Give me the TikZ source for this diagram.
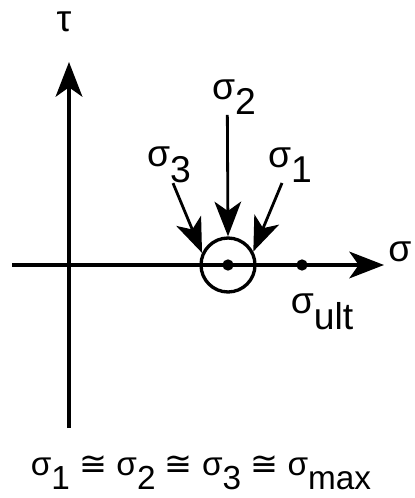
\documentclass[tikz,border=0pt]{standalone}
\usepackage{fontspec}
\setmainfont{Liberation Sans}
\newfontfamily\symfont{DejaVu Sans}
\usetikzlibrary{arrows.meta}
\newcommand{\lo}[1]{\raisebox{-0.42em}{#1}}
\newcommand{\appr}{{\symfont ≅}}

\begin{document}
\begin{tikzpicture}[x=0.75pt, y=-0.75pt,
  >={Stealth[length=26pt, width=20pt, inset=7pt]},
  axis/.style={->, line width=2.8pt},
  force/.style={->, line width=2.1pt},
  dot/.style={circle, fill=black, inner sep=0pt, minimum size=8.5pt},
  lbl/.style={font=\fontsize{28}{30}\selectfont, inner sep=0pt}]
\useasboundingbox (0,0) rectangle (414,498);
% axes
\coordinate (tb) at (69,428);
\coordinate (tt) at (69,62);
\coordinate (sl) at (12,265);
\coordinate (sr) at (384,265);
\draw[axis] (tb) -- (tt);
\draw[axis] (sl) -- (sr);
\node[lbl] (tau) at (64,22) {τ};
\node[lbl, anchor=west] (sig) at (388,252) {σ};
% stress point and ultimate
\node[dot] (c) at (228,265) {};
\node[circle, draw, line width=2.5pt, minimum size=40.5pt, inner sep=0pt] (pt) at (228,265) {};
\node[dot] (ult) at (302,265) {};
\node[lbl] (sult) at (322,312) {σ\lo{ult}};
% principal stresses
\node[lbl] (s2) at (234,97) {σ\lo{2}};
\node[lbl] (s3) at (169,165) {σ\lo{3}};
\node[lbl] (s1) at (290,165) {σ\lo{1}};
\draw[force] ([xshift=-5pt]s2.south) -- (pt.north);
\draw[force] ([xshift=3pt]s3.south) -- (pt.155);
\draw[force] ([xshift=-6pt]s1.south) -- (pt.28);
\node[font=\fontsize{25}{28}\selectfont, inner sep=0pt] (eq) at (201,473)
  {σ\lo{1} \appr{} σ\lo{2} \appr{} σ\lo{3} \appr{} σ\lo{max}};
\end{tikzpicture}
\end{document}
